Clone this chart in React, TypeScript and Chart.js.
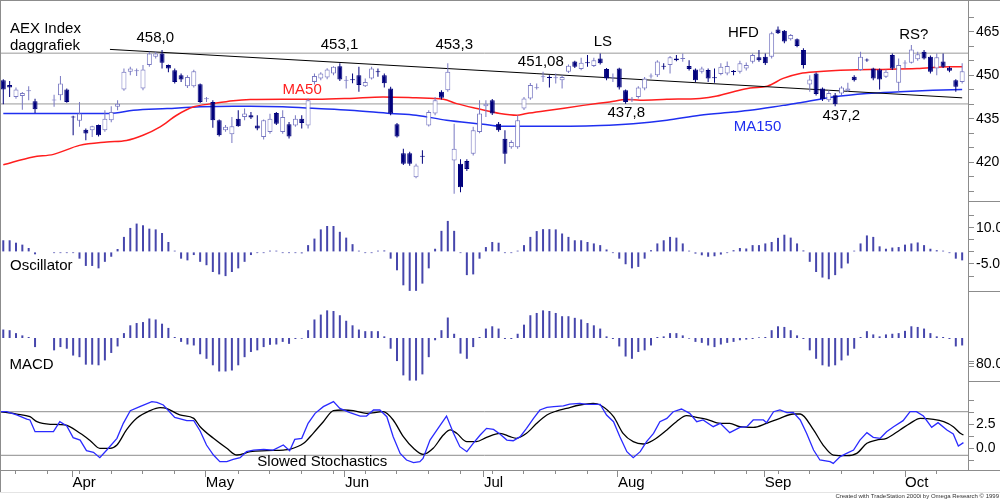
import React, { useEffect, useRef } from "react";
import { Chart, registerables } from "chart.js";

Chart.register(...registerables);

const FONT = "'Liberation Sans', Arial, Helvetica, sans-serif";
Chart.defaults.font.family = FONT;
Chart.defaults.color = "#000";

const FRAME = "#8c8c8c";
const LEVEL = "#9a9a9a";
const NAVY = "#00007c";
const HOLLOW = "#7878c2";
const HIST = "#4646ac";
const RED = "#ff1e1e";
const BLUE = "#1f2ff0";
const STOCH_BLUE = "#2a2aff";

// x axis = trading-day slot
const X_MIN = -0.36;
const X_MAX = 151.92;

const OPEN = [448.3,446.6,442.5,442.8,444.5,441.0,null,null,441.3,443.1,
445.1,435.8,434.3,431.2,431.0,432.8,431.0,434.5,439.1,445.1,
451.2,451.4,445.4,453.5,456.4,457.5,453.5,451.7,450.0,446.2,
446.2,446.9,441.7,440.8,434.5,431.0,429.6,435.0,435.6,436.2,
432.7,428.7,430.4,437.0,430.4,433.1,432.7,435.0,432.7,447.7,
448.9,449.2,450.6,453.1,448.1,448.65,450.0,446.2,448.9,451.4,
450.0,445.4,433.1,423.1,423.1,414.8,422.2,432.7,436.8,444.3,
444.8,420.6,419.5,420.4,422.9,430.4,439.3,441.4,433.3,428.1,
425.2,425.2,438.5,442.0,445.5,449.3,449.4,448.95,448.3,451.2,
454.7,452.1,454.5,453.2,455.8,452.1,448.95,452.3,444.8,441.5,
442.5,445.4,449.55,450.0,453.3,453.5,455.8,455.6,453.2,452.0,
451.2,451.8,449.3,450.4,450.6,451.5,451.2,452.3,454.6,456.2,
456.4,456.4,465.8,465.3,462.4,462.4,458.7,446.8,450.6,445.4,
441.4,443.1,443.7,444.6,449.5,451.8,455.45,452.3,452.0,449.5,
457.0,447.4,454.0,454.3,455.5,458.1,456.4,452.3,454.7,452.6,
448.3,447.7];
const HIGH = [448.6,448.0,445.8,444.2,446.2,441.9,null,null,443.3,449.7,
445.4,436.0,440.8,431.6,432.6,433.0,437.9,439.3,441.4,452.3,
452.9,452.3,453.5,458.1,458.1,458.7,453.7,452.3,450.6,450.0,
451.9,447.1,442.5,441.4,434.7,432.8,435.6,437.9,438.5,437.3,
436.2,434.7,436.7,437.3,437.9,433.9,436.2,436.2,442.0,450.6,
451.0,452.4,453.1,454.1,449.7,450.6,452.9,448.9,452.9,452.3,
450.6,446.0,433.5,424.6,423.6,419.5,424.1,437.9,442.5,444.8,
454.1,433.3,421.0,421.0,432.2,441.4,441.4,441.8,433.9,431.0,
427.6,436.2,442.5,447.3,447.1,451.2,450.0,450.6,450.0,453.7,
455.0,456.0,457.0,456.0,457.5,452.5,450.6,452.6,445.1,442.5,
446.2,449.4,450.6,455.2,454.1,456.6,457.0,457.5,455.2,452.3,
452.9,452.3,452.3,454.1,454.7,451.8,455.0,454.4,457.5,458.7,
457.5,465.0,466.8,465.6,464.2,462.7,459.3,450.0,450.9,445.8,
444.8,443.9,446.2,447.4,450.0,458.1,455.8,452.6,452.3,452.0,
457.5,455.8,455.2,460.4,458.1,458.7,456.8,457.5,457.5,453.0,
448.6,454.1];
const LOW = [440.0,442.5,441.9,438.1,441.4,437.0,null,null,439.1,441.4,
440.5,429.3,432.2,427.6,428.7,428.9,430.5,433.8,437.9,444.6,
450.0,449.7,444.8,452.9,455.8,452.3,451.0,447.1,447.7,445.6,
445.8,440.4,440.8,431.9,428.9,430.5,426.6,432.2,434.5,434.9,
431.0,427.8,429.8,432.8,429.8,428.2,432.2,431.6,431.6,446.8,
448.3,448.6,450.0,448.0,445.4,447.2,444.3,445.9,448.5,449.5,
445.8,436.2,428.5,419.0,418.8,414.5,419.5,432.3,436.2,441.6,
444.3,409.1,409.6,417.0,422.3,430.0,435.6,436.3,430.5,419.5,
424.6,424.6,438.0,441.5,445.1,447.7,445.8,447.1,445.4,450.8,
452.5,451.7,452.9,452.8,453.7,448.3,447.7,445.1,440.2,440.8,
442.0,444.8,448.9,449.4,452.0,450.6,454.8,454.6,451.6,447.7,
450.6,447.7,447.4,450.0,450.0,450.0,450.6,451.6,454.0,454.6,
453.5,455.8,464.2,461.0,462.0,459.6,452.3,444.3,443.0,441.1,
440.8,439.3,443.2,444.3,447.8,451.5,454.6,448.3,445.1,449.0,
451.8,444.3,452.3,454.0,455.0,455.4,450.6,450.0,452.5,451.0,
444.3,447.1];
const CLOSE = [445.1,445.8,445.1,443.9,444.85,438.3,null,null,441.65,447.1,
440.8,435.4,436.8,429.9,432.4,429.3,435.0,437.3,440.2,451.2,
452.3,451.75,452.0,457.5,457.5,454.3,452.3,447.7,448.5,449.4,
451.4,440.8,442.05,434.5,429.3,432.2,432.4,432.4,436.8,435.4,
431.6,434.5,435.0,433.3,435.6,428.9,435.0,433.5,441.4,449.7,
450.6,452.0,452.9,448.5,448.45,448.3,446.6,447.7,452.3,451.0,
447.2,436.8,428.9,419.5,419.5,418.9,421.85,437.3,441.4,442.2,
451.2,424.6,411.4,417.7,431.0,436.8,440.2,436.8,431.0,422.9,
427.0,434.5,442.0,446.6,445.85,449.65,449.0,449.3,449.4,453.3,
452.9,454.3,454.15,455.2,454.1,448.9,449.3,445.8,440.8,441.85,
445.8,448.9,449.9,454.7,452.95,456.2,455.2,455.95,452.1,448.3,
452.3,448.9,448.95,452.9,453.2,451.1,454.1,453.5,457.0,455.2,
454.1,464.5,464.5,461.6,463.9,460.1,453.5,448.5,443.5,441.7,
443.9,440.0,445.8,445.4,448.3,456.4,455.1,448.9,448.5,451.2,
452.3,453.5,454.35,458.9,457.2,455.8,451.2,456.2,452.9,451.5,
446.0,451.4];

const MA50 = [[0,419.1],[4.7,421.8],[7.9,422.7],[12,425.8],[16.3,427.0],[19.4,427.5],[22,429.3],[24.7,432.2],[27.3,436.2],[30,439.1],[33,440.2],[36.2,441.2],[38.9,441.6],[44,441.7],[49.4,441.7],[54.6,442.0],[59.8,442.5],[65,442.2],[69.3,441.7],[71.4,440.2],[74.6,438.5],[78.2,436.8],[80.9,436.2],[82.4,436.8],[86,437.9],[91.3,439.6],[95.5,440.8],[98.2,441.6],[100.3,441.4],[104.5,441.7],[109.7,442.0],[112.4,442.8],[115,444.3],[117.6,445.6],[120.3,446.2],[122.8,448.9],[125.5,450.6],[128.1,451.2],[133.3,451.8],[138.5,452.0],[143.9,452.3],[149.1,452.9],[151,452.9]];
const MA150 = [[0,436.8],[10,436.8],[16.8,436.8],[20.5,437.9],[25.8,438.5],[31,439.1],[36.2,439.3],[38.9,439.3],[44,439.1],[49.4,438.5],[54.6,437.9],[61,436.8],[65,436.2],[69.8,434.5],[75.6,433.1],[78.2,432.4],[83.4,432.4],[94,432.7],[99.2,433.3],[104.5,434.5],[109.7,436.2],[115,437.3],[117.6,437.9],[122.8,439.6],[125.5,440.5],[130.7,442.5],[136,443.7],[141.2,444.3],[146.4,444.8],[151,445.1]];
const TREND = [[16.8,458.9],[151,442.2]];
const RESISTANCE = 457.6;
const SUPPORT = 440.1;
const PRICE_TICKS = [470,465,460,455,450,445,440,435,430,425,420,415,410];
const PRICE_LABELED = [465,450,435,420];

const OSC = [4.8,4.8,3.8,3.0,1.6,-1.0,null,null,-0.5,-0.5,
-0.5,-0.5,-2.8,-5.8,-5.8,-6.8,-4.1,-2.0,1.2,6.2,
9.9,11.7,11.0,9.6,9.3,7.8,4.1,0.5,-2.8,-3.5,
-1.3,-4.1,-5.5,-8.3,-9.3,-10.0,-8.3,-6.8,-4.1,-1.3,
-0.5,-0.5,0.5,0.5,-0.5,-0.5,-0.5,-0.6,2.8,5.5,
9.3,10.7,10.7,8.3,5.9,3.2,0.5,-0.5,-0.5,0.5,
0.6,-2.8,-7.6,-13.8,-16.1,-16.1,-13.1,-6.8,1.3,8.7,
12.8,8.7,-0.5,-9.6,-9.3,-2.8,2.0,4.1,3.8,-0.5,
-0.5,0.5,2.8,6.2,8.6,9.4,9.4,9.3,7.6,6.2,
4.8,4.8,4.1,3.5,2.8,1.0,-0.5,-2.8,-5.1,-6.8,
-6.2,-2.8,0.7,3.5,4.8,6.2,5.9,3.5,0.5,-0.7,
-1.4,-2.0,-1.8,-1.1,-0.5,0.7,1.6,1.4,2.8,2.8,
3.5,4.1,5.8,7.1,5.9,3.5,0.6,-4.1,-8.3,-10.6,
-11.3,-9.6,-6.8,-4.8,0.5,3.5,6.8,6.2,2.3,1.3,
1.8,2.0,3.0,3.5,3.9,2.8,1.3,0.7,0.5,-0.5,
-2.8,-3.5];
const OSC_TICKS = [15,10,5,0,-5,-10];
const OSC_LABELED = [10,-5];

const MACD = [26,24,15,8,3,-28,null,null,-38,-28,
-33,-54,-59,-82,-82,-84,-69,-46,-26,15,
39,46,49,60,57,44,31,3,-12,-20,
-23,-50,-64,-84,-103,-103,-100,-84,-59,-43,
-38,-28,-21,-20,-12,-18,-3,-2,24,57,
72,85,83,70,53,39,26,21,21,21,
5,-33,-71,-115,-131,-131,-112,-59,-7,24,
63,13,-48,-64,-28,3,29,36,29,-3,
-3,13,41,70,77,85,83,77,67,67,
62,57,46,39,29,5,-3,-26,-57,-64,
-43,-38,-23,3,5,15,15,8,-2,-12,
-15,-23,-28,-20,-15,-12,-7,-5,-3,2,
3,24,36,34,24,8,-3,-38,-64,-84,
-88,-84,-69,-54,-33,3,21,11,5,11,
13,15,22,36,34,29,15,5,3,-3,
-26,-23];
const MACD_TICKS = [-73,-80,-87];
const MACD_LABELED = [-80];

const STOCH_K = [[-0.52,3.78],[0.53,3.78],[2.1,3.44],[3.7,3.02],[4.2,2.92],[5.0,1.70],[7.9,1.70],[8.9,2.74],[10.0,2.29],[11.0,1.08],[12.1,0.83],[13.1,-0.28],[14.2,-0.45],[15.2,-1.01],[16.3,-0.21],[17.9,1.01],[18.9,2.57],[20.0,3.89],[21.5,4.31],[23.4,4.83],[24.2,4.76],[25.2,4.48],[27.0,3.19],[28.9,2.85],[30.0,2.85],[31.0,1.77],[32.0,0.31],[33.1,-0.73],[34.1,-1.42],[35.2,-1.42],[36.2,-1.18],[37.3,-1.01],[38.3,-0.38],[39.4,-0.21],[41.0,-0.14],[42.5,-0.21],[44.1,0.31],[45.1,-0.28],[45.9,0.90],[47.0,1.01],[48.0,2.57],[49.1,3.61],[50.4,4.31],[52.0,4.83],[53.0,4.13],[54.6,3.68],[56.2,3.33],[57.2,3.33],[58.3,3.96],[59.3,3.96],[60.4,3.26],[61.4,1.18],[62.5,-0.56],[63.5,-1.25],[64.6,-1.53],[65.6,-1.42],[66.1,-1.08],[67.2,0.83],[68.3,1.88],[69.8,3.33],[70.9,1.53],[71.9,0.14],[73.0,-0.38],[74.0,0.49],[75.1,1.35],[76.1,2.05],[77.2,1.94],[78.2,1.45],[79.3,0.83],[80.3,0.76],[81.4,1.18],[82.4,2.05],[83.5,3.09],[84.5,3.96],[85.6,4.24],[86.7,4.31],[88.2,4.38],[89.2,4.58],[90.8,4.65],[91.9,4.55],[94.0,4.55],[95.0,3.44],[96.1,2.74],[97.1,1.18],[98.2,-0.38],[99.2,-1.01],[100.3,-0.38],[101.3,0.66],[102.4,1.53],[103.4,2.74],[104.5,3.09],[105.5,3.78],[106.8,4.06],[108.1,3.61],[109.2,2.74],[110.2,2.92],[111.8,2.22],[112.9,2.57],[114.4,1.60],[116.0,2.15],[117.1,2.22],[118.1,2.92],[119.7,2.92],[120.2,2.64],[121.3,3.78],[122.3,3.96],[123.4,3.68],[124.4,3.72],[125.5,2.92],[126.5,1.53],[127.6,-0.21],[128.6,-1.25],[130.2,-1.42],[130.7,-1.60],[131.8,-0.90],[132.8,-0.56],[133.9,-0.21],[134.9,0.83],[136.0,1.60],[137.0,1.11],[138.1,1.01],[139.1,1.70],[140.2,2.22],[141.7,2.85],[142.8,3.78],[143.8,3.78],[144.9,3.33],[146.2,2.15],[147.2,2.64],[148.6,1.88],[149.6,1.46],[150.4,0.21],[151.2,0.56]];
const STOCH_D = [[-0.52,3.78],[2.1,3.54],[4.2,3.26],[5.3,2.74],[7.4,2.47],[9.7,2.40],[12.1,1.53],[13.7,0.76],[15.2,-0.03],[16.8,-0.03],[17.9,0.31],[19.4,1.88],[21.0,3.09],[23.1,3.89],[24.7,4.20],[25.7,4.13],[27.8,3.44],[30.0,3.09],[31.0,2.22],[33.1,1.01],[35.2,-0.03],[36.8,-0.73],[38.9,-0.38],[41.5,-0.28],[44.1,-0.21],[45.1,-0.14],[47.3,0.49],[48.8,1.53],[50.4,2.74],[52.0,3.89],[53.5,3.96],[55.1,3.89],[57.2,3.61],[59.8,3.78],[61.4,2.92],[63.0,1.18],[64.6,-0.03],[66.1,-0.66],[67.7,-0.03],[69.3,1.35],[70.4,1.88],[71.4,1.53],[73.0,0.66],[74.5,0.66],[76.1,1.11],[78.2,1.53],[79.8,1.18],[80.8,1.01],[82.4,1.53],[84.0,2.57],[85.6,3.44],[87.1,3.85],[88.7,4.13],[90.8,4.48],[92.9,4.65],[94.0,4.48],[96.1,3.26],[97.6,1.53],[99.2,0.66],[100.8,0.42],[102.4,0.83],[104.5,1.88],[106.0,2.74],[107.6,3.37],[109.2,3.19],[110.8,2.99],[112.9,2.57],[114.4,2.57],[116.0,2.22],[118.1,2.15],[120.2,2.57],[122.3,3.09],[124.4,3.54],[125.5,3.54],[127.6,1.88],[129.1,0.31],[130.7,-0.73],[132.8,-0.80],[134.4,-0.56],[136.0,0.49],[137.5,0.83],[139.1,1.01],[141.2,1.88],[142.8,2.57],[144.4,3.09],[146.5,2.99],[148.1,2.74],[149.6,2.22],[150.7,1.53],[151.2,1.35]];
const STOCH_LEVELS = [3.78, -0.76];
const STOCH_TICKS = [5, 3.75, 2.5, 1.25, 0, -1.25];
const STOCH_LABELED = [2.5, 0];

const WEEK_TICKS = [2,7,12,17,22,27,37,42,47,52,57,62,67,72,77,82,87,92,102,107,112,117,122,127,132,137,147];
const MONTH_TICKS = [10.9,31.9,53.8,75.7,96.8,119.9,142.0];
const MONTH_LABELS = ["Apr","May","Jun","Jul","Aug","Sep","Oct"];

// ---------- helpers ----------
const pts = (arr: number[][]) => arr.map(([x, y]) => ({ x, y }));
const hLine = (y: number) => [{ x: X_MIN - 1, y }, { x: X_MAX + 1, y }];
const series = (arr: (number | null)[]) =>
  arr.map((v, i) => (v == null ? null : { x: i, y: v })).filter(Boolean) as any[];

type TextItem = { text: string; x: number; y: number; align?: CanvasTextAlign; color?: string; size?: number };
const textPlugin = (items: TextItem[]) => ({
  id: "texts",
  afterDatasetsDraw(chart: any) {
    const ctx = chart.ctx;
    ctx.save();
    for (const t of items) {
      ctx.font = `${t.size || 15}px ${FONT}`;
      ctx.fillStyle = t.color || "#000";
      ctx.textAlign = t.align || "left";
      ctx.textBaseline = "alphabetic";
      ctx.fillText(t.text, t.x, t.y);
    }
    ctx.restore();
  },
});

const hiddenX = () => ({
  type: "linear",
  min: X_MIN,
  max: X_MAX,
  display: false,
  offset: false,
  grid: { offset: false },
});

const rightAxis = (min: number, max: number, ticks: number[], label: (v: number) => string) => ({
  type: "linear",
  position: "right",
  min,
  max,
  afterBuildTicks: (s: any) => {
    s.ticks = ticks.map((v) => ({ value: v }));
  },
  afterFit: (s: any) => {
    s.width = 32;
    s.paddingTop = 0;
    s.paddingBottom = 0;
  },
  border: { display: true, color: FRAME, width: 1 },
  grid: { drawOnChartArea: false, drawTicks: true, tickLength: 6, color: FRAME },
  ticks: {
    autoSkip: false,
    padding: 2,
    color: "#000",
    font: { size: 14, family: FONT },
    callback: (v: any) => label(Number(v)),
  },
});

const baseOptions = (scales: any, padding: any) => ({
  responsive: false,
  animation: false,
  devicePixelRatio: 1,
  events: [],
  layout: { padding },
  plugins: { legend: { display: false }, tooltip: { enabled: false } },
  scales,
});

// ---------- panels ----------
function buildPrice() {
  const idx = OPEN.map((_, i) => i).filter((i) => OPEN[i] != null);
  const up = (i: number) => (CLOSE[i] as number) >= (OPEN[i] as number);
  const wicks = idx.map((i) => ({ x: i, y: [LOW[i], HIGH[i]] }));
  const bodies = idx.map((i) => ({ x: i, y: [OPEN[i], CLOSE[i]] }));
  const wickColors = idx.map((i) => (up(i) ? HOLLOW : NAVY));
  const fillColors = idx.map((i) => (up(i) ? "#ffffff" : NAVY));
  const lineColors = idx.map((i) => (up(i) ? HOLLOW : NAVY));
  return {
    type: "bar",
    data: {
      datasets: [
        { type: "line", data: hLine(RESISTANCE), borderColor: LEVEL, borderWidth: 1, pointRadius: 0, order: 10 },
        { type: "line", data: hLine(SUPPORT), borderColor: LEVEL, borderWidth: 1, pointRadius: 0, order: 10 },
        { type: "line", data: pts(MA150), borderColor: BLUE, borderWidth: 1.5, pointRadius: 0, cubicInterpolationMode: "monotone", order: 6 },
        { type: "line", data: pts(MA50), borderColor: RED, borderWidth: 1.5, pointRadius: 0, cubicInterpolationMode: "monotone", order: 5 },
        { type: "line", data: pts(TREND), borderColor: "#000", borderWidth: 1, pointRadius: 0, order: 4 },
        { type: "bar", data: wicks, backgroundColor: wickColors, barThickness: 1, grouped: false, inflateAmount: 0, borderWidth: 0, order: 2 },
        {
          type: "bar",
          data: bodies,
          backgroundColor: fillColors,
          borderColor: lineColors,
          borderWidth: 1,
          borderSkipped: false,
          barThickness: 5,
          grouped: false,
          inflateAmount: 0,
          order: 1,
        },
      ],
    },
    options: baseOptions(
      {
        x: hiddenX(),
        y: rightAxis(406.97, 475.59, PRICE_TICKS, (v) => (PRICE_LABELED.includes(v) ? String(v) : "")),
      },
      { left: 1, right: 0, top: 1, bottom: 1 }
    ),
    plugins: [
      textPlugin([
        { text: "AEX Index", x: 10, y: 32.5 },
        { text: "daggrafiek", x: 10, y: 49.5 },
        { text: "458,0", x: 155.3, y: 42.3, align: "center" },
        { text: "453,1", x: 339.5, y: 49.3, align: "center" },
        { text: "453,3", x: 454.2, y: 49.3, align: "center" },
        { text: "451,08", x: 540.8, y: 65.7, align: "center" },
        { text: "LS", x: 602.8, y: 46, align: "center" },
        { text: "HFD", x: 743.3, y: 36.5, align: "center" },
        { text: "RS?", x: 913.8, y: 39.3, align: "center" },
        { text: "MA50", x: 302.2, y: 94.3, align: "center", color: RED },
        { text: "437,8", x: 626.2, y: 117, align: "center" },
        { text: "437,2", x: 841.3, y: 119.5, align: "center" },
        { text: "MA150", x: 757.5, y: 130.5, align: "center", color: BLUE },
      ]),
    ],
  };
}

const histConfig = (values: (number | null)[], min: number, max: number, ticks: number[], label: (v: number) => string, texts: TextItem[]) => ({
  type: "bar",
  data: {
    datasets: [
      { type: "bar", data: series(values), backgroundColor: HIST, barThickness: 2, grouped: false, inflateAmount: 0, borderWidth: 0 },
    ],
  },
  options: baseOptions({ x: hiddenX(), y: rightAxis(min, max, ticks, label) }, { left: 1, right: 0, top: 0, bottom: 0 }),
  plugins: [textPlugin(texts)],
});

function buildOsc() {
  return histConfig(OSC, -16.57, 21.03, OSC_TICKS, (v) => (OSC_LABELED.includes(v) ? v.toFixed(1) : ""), [
    { text: "Oscillator", x: 10, y: 69.3 },
  ]);
}

function buildMacd() {
  return histConfig(MACD, -135.4, 141.5, MACD_TICKS, (v) => (MACD_LABELED.includes(v) ? Math.abs(v).toFixed(1) : ""), [
    { text: "MACD", x: 9.5, y: 76.5 },
  ]);
}

function buildStoch() {
  const allTicks = [...WEEK_TICKS, ...MONTH_TICKS].sort((a, b) => a - b);
  return {
    type: "line",
    data: {
      datasets: [
        { data: hLine(STOCH_LEVELS[0]), borderColor: FRAME, borderWidth: 1, pointRadius: 0, order: 10 },
        { data: hLine(STOCH_LEVELS[1]), borderColor: FRAME, borderWidth: 1, pointRadius: 0, order: 10 },
        { data: pts(STOCH_D), borderColor: "#000", borderWidth: 1.3, pointRadius: 0, cubicInterpolationMode: "monotone", order: 2 },
        { data: pts(STOCH_K), borderColor: STOCH_BLUE, borderWidth: 1.3, pointRadius: 0, tension: 0, order: 1 },
      ],
    },
    options: baseOptions(
      {
        x: {
          type: "linear",
          position: "bottom",
          min: X_MIN,
          max: X_MAX,
          offset: false,
          afterBuildTicks: (s: any) => {
            s.ticks = allTicks.map((v) => ({ value: v }));
          },
          afterFit: (s: any) => {
            s.height = 30;
            s.paddingLeft = 0;
            s.paddingRight = 0;
          },
          border: { display: true, color: FRAME, width: 1 },
          grid: {
            offset: false,
            drawOnChartArea: false,
            tickLength: 7,
            color: FRAME,
            tickBorderDash: (ctx: any) => (ctx.tick && MONTH_TICKS.includes(ctx.tick.value) ? [] : [3, 40]),
          },
          ticks: {
            autoSkip: false,
            maxRotation: 0,
            minRotation: 0,
            align: "start",
            padding: -3,
            color: "#000",
            font: { size: 15, family: FONT },
            callback: (v: any) => {
              const i = MONTH_TICKS.indexOf(Number(v));
              return i >= 0 ? MONTH_LABELS[i] : "";
            },
          },
        },
        y: rightAxis(-2.29, 6.875, STOCH_TICKS, (v) => (STOCH_LABELED.includes(v) ? v.toFixed(1) : "")),
      },
      { left: 1, right: 0, top: 0, bottom: 0 }
    ),
    plugins: [
      textPlugin([
        { text: "Slowed Stochastics", x: 257.3, y: 84 },
        { text: "Created with TradeStation 2000i by Omega Research \u00a9 1999", x: 999, y: 115.5, align: "right", size: 6, color: "#333" },
      ]),
    ],
  };
}

function Panel({ top, height, build }: { top: number; height: number; build: () => any }) {
  const ref = useRef<HTMLCanvasElement | null>(null);
  useEffect(() => {
    const chart = new Chart(ref.current as HTMLCanvasElement, build());
    return () => chart.destroy();
  }, []);
  return (
    <canvas
      ref={ref}
      width={1000}
      height={height}
      style={{ position: "absolute", left: 0, top, width: 1000, height, display: "block" }}
    />
  );
}

const line = (left: number, top: number, width: number, height: number, color = FRAME) => (
  <div style={{ position: "absolute", left, top, width, height, background: color }} />
);

export default function App() {
  return (
    <div style={{ position: "fixed", left: 0, top: 0, width: 1000, height: 500, background: "#fff", overflow: "hidden" }}>
      <Panel top={0} height={201} build={buildPrice} />
      <Panel top={201} height={91} build={buildOsc} />
      <Panel top={292} height={90} build={buildMacd} />
      <Panel top={382} height={118} build={buildStoch} />
      {line(0, 0, 1000, 1)}
      {line(0, 0, 1, 492)}
      {line(968, 201, 32, 1)}
      {line(968, 291, 32, 1)}
      {line(968, 381, 32, 1)}
      {line(968, 470, 32, 1)}
      {line(0, 492, 1000, 1, "#e4e4e4")}
    </div>
  );
}
